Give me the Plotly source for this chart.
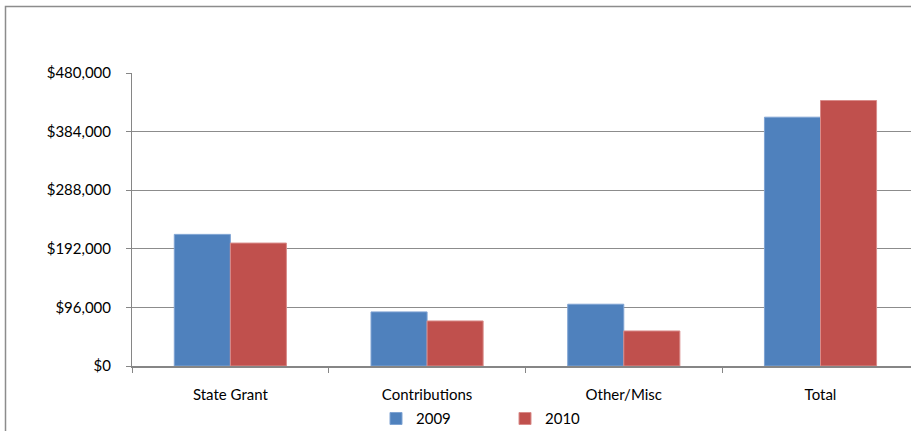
import plotly.graph_objects as go

categories = ["State Grant", "Contributions", "Other/Misc", "Total"]
values_2009 = [215600, 88600, 101200, 407600]
values_2010 = [201400, 73800, 57400, 434900]
series_names = ["2009", "2010"]
tick_values = [0, 96000, 192000, 288000, 384000, 480000]
tick_labels = ["$" + f"{v:,}" for v in tick_values]

colors = ["#4F81BD", "#C0504D"]
edge = ["#7FA3D3", "#D98C8A"]

fig = go.Figure()
for name, vals, c, e in zip(series_names, [values_2009, values_2010], colors, edge):
    fig.add_trace(go.Bar(x=categories, y=vals, name=name,
                         marker=dict(color=c, line=dict(color=e, width=1))))

W, H = 911, 431
L, T, B = 132, 73, 65
fig.update_layout(
    width=W, height=H,
    margin=dict(l=L, r=0, t=T, b=B, autoexpand=False),
    paper_bgcolor="white", plot_bgcolor="white",
    barmode="group", bargap=0.43, bargroupgap=0,
    font=dict(family="Lato, Carlito, 'Open Sans', sans-serif", size=15, color="#000000"),
    showlegend=True,
    legend=dict(orientation="h", x=(384 - 8 - L) / (W - L), xanchor="left",
                y=-0.18, yanchor="middle",
                font=dict(size=15), entrywidth=84, entrywidthmode="pixels",
                itemwidth=30, bgcolor="rgba(0,0,0,0)"),
    xaxis=dict(range=[-0.5, 3.46], showline=True, linecolor="#868686", linewidth=2,
               ticks="outside", tickson="boundaries", ticklen=5, tickcolor="#868686",
               showgrid=False, tickfont=dict(size=15), ticklabelstandoff=14,
               automargin=False),
    yaxis=dict(range=[0, 480000], tickmode="array", tickvals=tick_values, ticktext=tick_labels,
               showgrid=True, gridcolor="#8C8C8C", gridwidth=1,
               showline=True, linecolor="#868686", linewidth=1,
               ticks="outside", ticklen=5, tickcolor="#868686",
               zeroline=False, tickfont=dict(size=15), ticklabelstandoff=12,
               automargin=False),
    shapes=[dict(type="rect", xref="paper", yref="paper",
                 x0=(5.5 - L) / (W - L), x1=1.1,
                 y0=-0.5, y1=(H - B - 6.5) / (H - B - T),
                 line=dict(color="#8C8C8C", width=1.5), fillcolor="rgba(0,0,0,0)",
                 layer="below")],
)

fig.write_html("out.html")
